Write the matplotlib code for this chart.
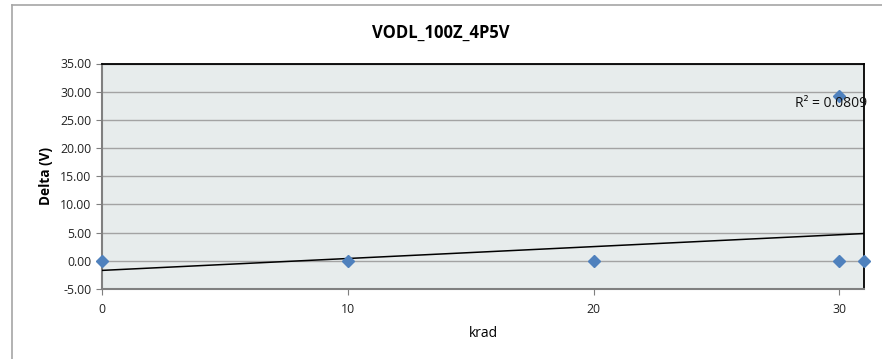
import matplotlib
matplotlib.use("Agg")
import matplotlib.pyplot as plt
from matplotlib.lines import Line2D

plt.rcParams['font.family'] = ['Open Sans', 'DejaVu Sans']

# Data
krad = [0, 10, 20, 30, 30, 31]
delta = [0.0, 0.0, 0.0, 29.3, 0.0, 0.0]
trend_x = [0, 31]
trend_y = [-1.70, 4.84]
r2_label = "R² = 0.0809"
title = "VODL_100Z_4P5V"
x_ticks = [0, 10, 20, 30]
y_ticks = [-5, 0, 5, 10, 15, 20, 25, 30, 35]

W, H = 882, 359
fig = plt.figure(figsize=(W / 100, H / 100), dpi=100)

# outer chart-area border (left & top visible)
fig.add_artist(Line2D([12 / W, 12 / W], [0, 1 - 5 / H], color='#a6a6a6', lw=1.2))
fig.add_artist(Line2D([12 / W, 1], [1 - 5 / H, 1 - 5 / H], color='#a6a6a6', lw=1.2))

left, right = 102 / W, 864 / W
top, bottom = 1 - 63.5 / H, 1 - 289 / H
ax = fig.add_axes([left, bottom, right - left, top - bottom])
ax.set_facecolor('#e7ecec')

ax.set_xlim(0, 31)
ax.set_ylim(-5, 35)
ax.set_xticks(x_ticks)
ax.set_yticks(y_ticks)
ax.set_yticklabels([f"{v:.2f}" for v in y_ticks])
ax.tick_params(axis='both', labelsize=8.8, colors='#7f7f7f', labelcolor='#222222',
               length=4, width=0.8)
ax.tick_params(axis='x', pad=6)

ax.grid(axis='y', color='#a3a3a3', lw=1.0)
ax.set_axisbelow(True)

for s in ['left', 'bottom']:
    ax.spines[s].set_color('#808080')
    ax.spines[s].set_linewidth(1.5)
for s in ['top', 'right']:
    ax.spines[s].set_color('#000000')
    ax.spines[s].set_linewidth(1.3)

ax.plot(trend_x, trend_y, color='black', lw=1.1, zorder=3)
ax.plot(krad, delta, linestyle='none', marker='D', markersize=6.5,
        color='#4f81bd', markeredgecolor='#4f81bd', zorder=4, clip_on=False)

ax.text(28.2, 27.9, r2_label, fontsize=10, va='center', ha='left', color='#111111', zorder=5)

ax.set_xlabel('krad', fontsize=10, labelpad=7)
ax.set_ylabel('Delta (V)', fontsize=9.8, fontweight='bold', labelpad=5)

fig.text(441 / W, 1 - 33 / H, title, fontsize=12, fontweight='bold', ha='center', va='center')

fig.savefig('out.png', dpi=100)
